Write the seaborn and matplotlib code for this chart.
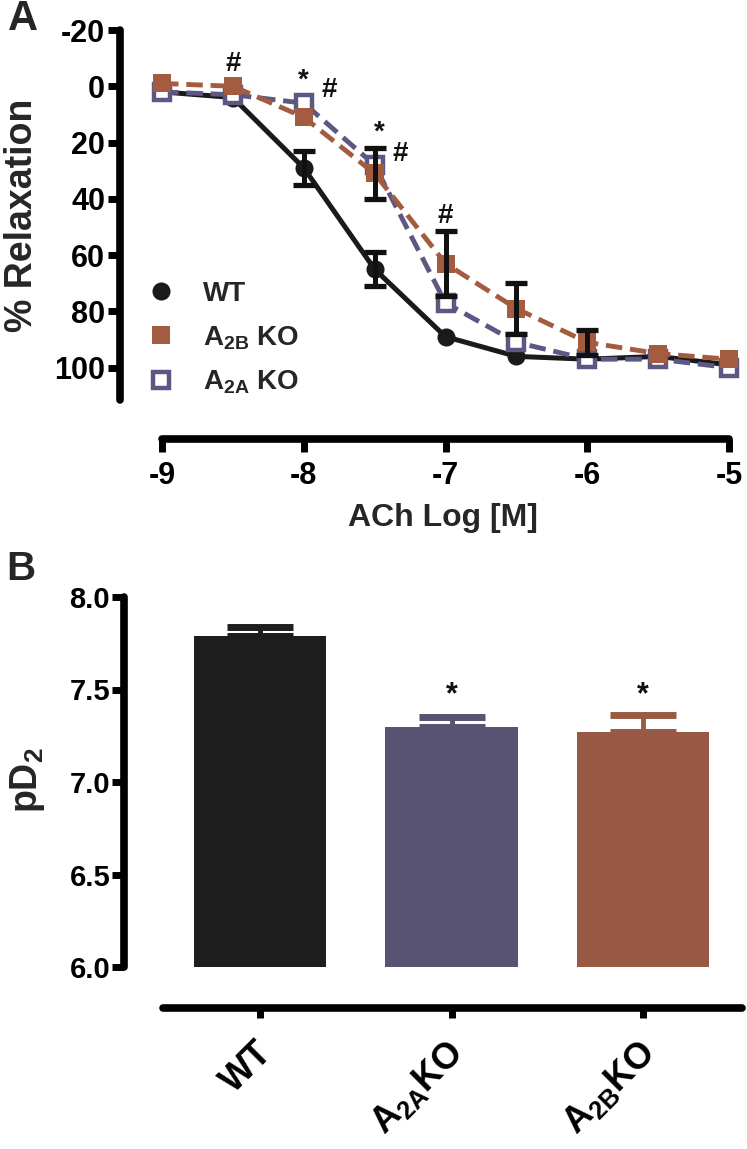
import numpy as np
import pandas as pd
import matplotlib
matplotlib.use("Agg")
import matplotlib.pyplot as plt
import matplotlib.transforms as mtrans
import seaborn as sns
from matplotlib.lines import Line2D

# ---------------- data ----------------
conc = [-9, -8.5, -8, -7.5, -7, -6.5, -6, -5.5, -5]
wt_relax = [2, 4, 29, 65, 89, 96, 97, 96, 99]
wt_err = [0, 0, 6, 6, 0, 0, 0, 0, 0]
a2b_relax = [-1, 0, 11, 31, 63, 79, 91, 95, 97]
a2b_err = [0, 0, 0, 9, 11.5, 9, 4.5, 0, 0]
a2a_relax = [2, 3, 6, 28, 77, 91, 97, 97, 100]
a2a_err = [0, 0, 0, 0, 0, 0, 0, 0, 0]

x_ticks = [-9, -8, -7, -6, -5]
y_ticks = [-20, 0, 20, 40, 60, 80, 100]

annot_sym = ["#", "*", "#", "*", "#", "#"]
annot_x = [-8.5, -8.0, -7.82, -7.47, -7.32, -7.0]
annot_y = [-8.0, -2, 1.5, 16.5, 24, 46]

groups = ["WT", r"A$_{\mathrm{2A}}$KO", r"A$_{\mathrm{2B}}$KO"]
pd2 = [7.79, 7.30, 7.27]
pd2_err = [0.05, 0.05, 0.09]
pd2_sig = ["", "*", "*"]
b_ticks = [6.0, 6.5, 7.0, 7.5, 8.0]

c_wt = "#1a1a1a"
c_a2b = "#a35c40"
c_a2a = "#5d5783"
bar_colors = ["#1e1e1e", "#585273", "#985a44"]

# ---------------- style ----------------
sns.set_theme(style="ticks")
plt.rcParams["font.family"] = ["Liberation Sans", "DejaVu Sans"]
plt.rcParams["font.weight"] = "bold"
plt.rcParams["axes.labelweight"] = "bold"
plt.rcParams["mathtext.fontset"] = "custom"
plt.rcParams["mathtext.rm"] = "Liberation Sans:bold"
plt.rcParams["mathtext.it"] = "Liberation Sans:bold:italic"
plt.rcParams["mathtext.bf"] = "Liberation Sans:bold"

W, H = 747, 1149
fig = plt.figure(figsize=(W / 100, H / 100), dpi=100)


def fx(px):
    return px / W


def fy(py):
    return 1 - py / H


SPW = 5.5

# ---------------- panel A ----------------
axA = fig.add_axes([fx(162), fy(400), fx(729) - fx(162), fy(30) - fy(400)])

sns.lineplot(x=conc, y=wt_relax, ax=axA, color=c_wt, lw=3.6, marker="o",
             markersize=13, markeredgewidth=0, errorbar=None, clip_on=False, zorder=3)
sns.lineplot(x=conc, y=a2a_relax, ax=axA, color=c_a2a, lw=3.5, linestyle=(0, (3.4, 1.6)),
             marker="s", markersize=12, markerfacecolor="white", markeredgecolor=c_a2a,
             markeredgewidth=3.2, errorbar=None, clip_on=False, zorder=4)
sns.lineplot(x=conc, y=a2b_relax, ax=axA, color=c_a2b, lw=3.5, linestyle=(0, (3.4, 1.6)),
             marker="s", markersize=13, markeredgewidth=0, errorbar=None,
             clip_on=False, zorder=5)

for vals, errs in [(wt_relax, wt_err), (a2b_relax, a2b_err), (a2a_relax, a2a_err)]:
    xs = [c for c, e in zip(conc, errs) if e > 0]
    ys = [v for v, e in zip(vals, errs) if e > 0]
    es = [e for e in errs if e > 0]
    if xs:
        axA.errorbar(xs, ys, yerr=es, fmt="none", ecolor="#111111", elinewidth=3.6,
                     capsize=8, capthick=3.8, zorder=6, clip_on=False)

for s, x, y in zip(annot_sym, annot_x, annot_y):
    axA.text(x, y, s, ha="center", va="center", fontsize=20, fontweight="bold",
             color="#111111", zorder=7)

axA.set_xlim(-9, -5)
axA.set_ylim(111.5, -20)
axA.set_xticks(x_ticks)
axA.set_xticklabels([str(t) for t in x_ticks])
axA.set_yticks(y_ticks)
axA.set_yticklabels([str(t) for t in y_ticks])
axA.set_xlabel("ACh Log [M]", fontsize=23, fontweight="bold")
axA.set_ylabel("% Relaxation", fontsize=27, fontweight="bold")
axA.xaxis.label.set_va("center")
axA.yaxis.label.set_va("center")
axA.xaxis.set_label_coords(0.495, -(518 - 400) / 370)
axA.yaxis.set_label_coords((22 - 162) / 567, 0.5)

for side in ["top", "right"]:
    axA.spines[side].set_visible(False)
axA.spines["left"].set_position(("outward", 30))
axA.spines["bottom"].set_position(("outward", 28))
for side in ["left", "bottom"]:
    axA.spines[side].set_linewidth(SPW)
    axA.spines[side].set_color("black")
    axA.spines[side].set_capstyle("round")
axA.tick_params(axis="both", which="major", direction="out", length=9, width=5,
                color="black", labelsize=22, labelcolor="black",
                bottom=True, left=True, top=False, right=False)
axA.tick_params(axis="y", pad=2)
axA.tick_params(axis="x", pad=7)
for lab in axA.get_xticklabels() + axA.get_yticklabels():
    lab.set_fontweight("bold")

handles = [
    Line2D([], [], linestyle="none", marker="o", markersize=13, color=c_wt, markeredgewidth=0),
    Line2D([], [], linestyle="none", marker="s", markersize=13, color=c_a2b, markeredgewidth=0),
    Line2D([], [], linestyle="none", marker="s", markersize=12, markerfacecolor="white",
           markeredgecolor=c_a2a, markeredgewidth=3.2),
]
labels = ["WT", r"A$_{\mathrm{2B}}$ KO", r"A$_{\mathrm{2A}}$ KO"]
leg = axA.legend(handles, labels, loc="upper left",
                 bbox_to_anchor=(fx(122), fy(256)), bbox_transform=fig.transFigure,
                 frameon=False, fontsize=20, handlelength=1.0, handletextpad=1.0,
                 labelspacing=0.62, borderpad=0.4, numpoints=1)
for t in leg.get_texts():
    t.set_fontweight("bold")

fig.text(fx(23), fy(19), "A", fontsize=30, fontweight="bold", ha="center", va="center")

# ---------------- panel B ----------------
axB = fig.add_axes([fx(163), fy(967), fx(742) - fx(163), fy(597) - fy(967)])
sns.barplot(x=groups, y=pd2, hue=groups, palette=bar_colors, legend=False, width=0.69,
            saturation=1, errorbar=None, linewidth=0, ax=axB)
for i, (v, e, c) in enumerate(zip(pd2, pd2_err, bar_colors)):
    axB.errorbar([i], [v], yerr=[[0], [e]], fmt="none", ecolor=c, elinewidth=3.5,
                 capsize=24, capthick=5, zorder=4, clip_on=False)
    if pd2_sig[i]:
        axB.text(i, 7.47, pd2_sig[i], ha="center", va="center", fontsize=22,
                 fontweight="bold", color="#111111")

axB.set_xlim(-0.507, 2.517)
axB.set_ylim(6.0, 8.0)
axB.set_yticks(b_ticks)
axB.set_yticklabels([f"{t:.1f}" for t in b_ticks])
axB.set_xlabel("")
axB.set_ylabel("pD$_2$", fontsize=27, fontweight="bold")
axB.yaxis.label.set_va("center")
axB.yaxis.set_label_coords((28 - 163) / 579, 0.505)
for side in ["top", "right"]:
    axB.spines[side].set_visible(False)
axB.spines["left"].set_position(("outward", 28))
axB.spines["bottom"].set_position(("outward", 29.5))
for side in ["left", "bottom"]:
    axB.spines[side].set_linewidth(SPW)
    axB.spines[side].set_color("black")
    axB.spines[side].set_capstyle("round")
axB.tick_params(axis="both", which="major", direction="out", width=5, color="black",
                labelcolor="black", bottom=True, left=True, top=False, right=False)
axB.tick_params(axis="y", length=9, pad=1, labelsize=21)
axB.tick_params(axis="x", length=7, pad=20, labelsize=26)
for lab in axB.get_yticklabels():
    lab.set_fontweight("bold")
shift = mtrans.ScaledTranslation(7 / 100, -2 / 100, fig.dpi_scale_trans)
for lab in axB.get_xticklabels():
    lab.set_fontweight("bold")
    lab.set_rotation(45)
    lab.set_ha("right")
    lab.set_va("center")
    lab.set_rotation_mode("anchor")
    lab.set_transform(lab.get_transform() + shift)

fig.text(fx(21), fy(569), "B", fontsize=29, fontweight="bold", ha="center", va="center")

fig.savefig("out.png", dpi=100)
